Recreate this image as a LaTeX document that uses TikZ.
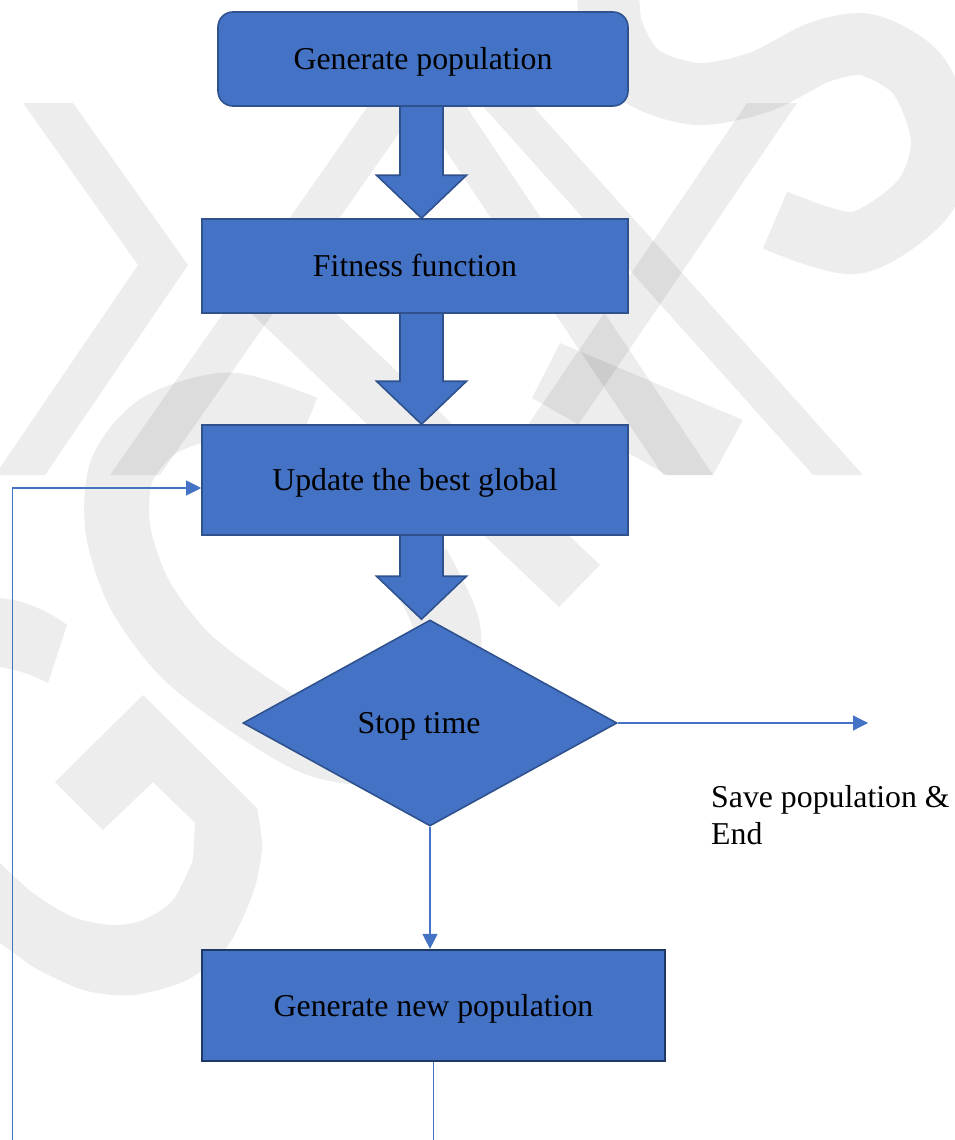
\documentclass[tikz,border=0pt]{standalone}
\usepackage{fontspec}
\setmainfont{Liberation Serif}
\usetikzlibrary{shapes.geometric,arrows.meta,calc,backgrounds}

\definecolor{boxblue}{HTML}{4472C4}
\definecolor{boxedge}{HTML}{2F528F}
\definecolor{boxedgedark}{HTML}{203864}
\definecolor{linkblue}{HTML}{4472C4}

% thick downward block arrow from the bottom of #1 to the top of #2
\newcommand{\blockdown}[2]{%
  \draw[blockarrow]
    ($(ax|-#1.south)+(-21.5,-2)$) -- ($(ax|-#2.north)+(-21.5,-43)$)
    -- ($(ax|-#2.north)+(-45,-43)$) -- (ax|-#2.north)
    -- ($(ax|-#2.north)+(45,-43)$) -- ($(ax|-#2.north)+(21.5,-43)$)
    -- ($(ax|-#1.south)+(21.5,-2)$);}

\begin{document}
\begin{tikzpicture}[x=1pt,y=-1pt,
  every node/.style={font=\fontsize{31.8}{37}\selectfont},
  stepbox/.style={rectangle, draw=boxedge, line width=1.6pt, fill=boxblue,
    inner sep=0pt, text=black, text height=21.7pt, text depth=0pt},
  decision/.style={diamond, draw=boxedge, line width=1.6pt, fill=boxblue,
    inner sep=0pt, aspect=1.8, text=black, text height=21.7pt, text depth=0pt},
  blockarrow/.style={draw=boxedge, line width=1.6pt, fill=boxblue, line join=miter},
  link/.style={draw=linkblue, line width=1.2pt, -{Triangle[length=15pt,width=15pt]}},
  wmfill/.style={fill=black, fill opacity=0.07},
  wmstroke/.style={draw=black, draw opacity=0.07, line cap=butt},
]
\useasboundingbox (0,0) rectangle (955,1140);
\clip (0,0) rectangle (955,1140);

% flowchart steps
\node[stepbox, rounded corners=15pt, minimum width=410pt, minimum height=94pt]
  (gen) at (423,59) {Generate population};
\node[stepbox, minimum width=426pt, minimum height=94pt]
  (fit) at (415,266) {Fitness function};
\node[stepbox, minimum width=426pt, minimum height=110pt]
  (upd) at (415,480) {Update the best global};
\node[decision, minimum width=374pt, minimum height=206pt]
  (stop) at (430,723) {\hspace*{-22pt}Stop time};
\node[stepbox, draw=boxedgedark, line width=2.2pt, minimum width=463pt, minimum height=111pt]
  (newpop) at (433.5,1005.5) {Generate new population};
\node[anchor=north west, align=left, inner sep=0pt]
  (save) at (711,785) {Save population \&\\End};

% helper coordinates
\coordinate (ax) at (421.5,0);
\coordinate (exitpt) at (868,723);
\coordinate (loopcorner) at (12.5,1200);
\coordinate (loopin) at ($(upd.west)+(0,8)$);

\begin{scope}[on background layer]
  \clip (0,0) rectangle (955,1140);
  % faint logo in the background
  \fill[wmfill] (23,103) -- (73,103) -- (188,265) -- (45,475) -- (-5,475) -- (138,265) -- cycle;
  \fill[wmfill] (370,103) -- (420,103) -- (160,475) -- (110,475) -- cycle;
  \fill[wmfill] (480,103) -- (530,103) -- (863,475) -- (813,475) -- cycle;
  \fill[wmfill] (747,103) -- (797,103) -- (544,475) -- (494,475) -- cycle;
  \fill[wmfill] (414,103) -- (464,103) -- (713,475) -- (663,475) -- cycle;
  \fill[wmfill] (560,343) -- (743,420) -- (713,475) -- (667,475) -- (532,398) -- cycle;
  \fill[wmfill] (237,300) -- (322,300) -- (600,565) -- (559,607) -- cycle;
  \draw[wmstroke, line width=65pt] plot[smooth] coordinates
    {(305,428) (230,405) (160,425) (122,470) (118,530) (140,595) (185,655)
     (250,705) (320,745) (390,750) (440,700) (448,630) (418,565)};
  \fill[wmfill] (0,943) -- plot[smooth] coordinates
    {(33,967) (83,990) (133,995) (187,980) (227,947) (253,893) (262,847) (257,808)}
    -- (143,695) -- (55,782) -- (103,830) -- (153,782) -- (195,823)
    -- plot[smooth] coordinates
    {(193,860) (173,900) (143,920) (113,925) (73,917) (33,893) (0,863)} -- cycle;
  \fill[wmfill] (0,598) .. controls (25,600) and (50,612) .. (67,625)
    -- (48,683) .. controls (35,676) and (18,670) .. (0,667) -- cycle;
  \draw[wmstroke, line width=62pt] plot[smooth] coordinates
    {(608,-20) (612,30) (640,75) (697,94) (760,82) (820,52) (868,45)
     (918,75) (942,140) (922,200) (855,243) (775,220)};

  % block arrows between the upper steps
  \blockdown{gen}{fit}
  \blockdown{fit}{upd}
  \blockdown{upd}{stop}
\end{scope}

% thin connectors
\draw[link] (stop.east) -- (exitpt);
\draw[link] (stop.south) -- (stop.south |- newpop.north);
\draw[link] (newpop.south) |- (loopcorner) |- (loopin);
\end{tikzpicture}
\end{document}
